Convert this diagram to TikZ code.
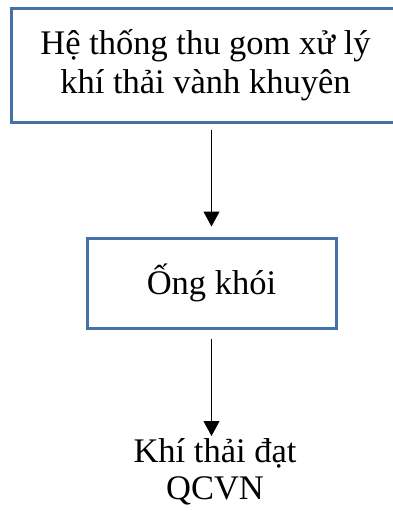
\documentclass[tikz,border=0pt]{standalone}
\usepackage{fontspec}
\setmainfont{Liberation Serif}
\usetikzlibrary{positioning, arrows.meta}
\definecolor{boxblue}{HTML}{4472A8}

\begin{document}
\begin{tikzpicture}[
  x=1pt, y=-1pt,
  font=\fontsize{34.5}{39}\selectfont,
  stage/.style={rectangle, draw=boxblue, line width=3pt, align=center, inner sep=0pt},
  result/.style={align=center, inner sep=0pt, font=\fontsize{34.5}{37}\selectfont},
  arr/.style={-{Triangle[width=16pt, length=15pt]}, line width=1pt}
]
\clip (0,0) rectangle (393,511);
% ----- stages -----
\node[stage, minimum width=389pt, minimum height=113pt] (collect) at (205.5,65.5)
  {Hệ thống thu gom xử lý\\khí thải vành khuyên};
\node[stage, minimum width=249pt, minimum height=90pt] (stack) at (211.5,283) {Ống khói};
% ----- output -----
\node[result, anchor=north] (outlet) at (215,438) {Khí thải đạt\\QCVN};
\draw[arr, shorten <=6pt, shorten >=10pt] (collect.south -| stack.north) -- (stack.north);
\draw[arr, shorten <=9pt, shorten >=2pt] (stack.south) -- (outlet.north -| stack.south);
\end{tikzpicture}
\end{document}
